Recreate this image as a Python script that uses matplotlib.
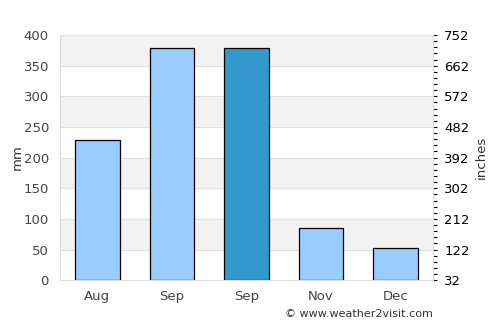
import matplotlib
matplotlib.use("Agg")
import matplotlib.pyplot as plt
from matplotlib.ticker import AutoMinorLocator, FixedLocator

months = ["Aug", "Sep", "Sep", "Nov", "Dec"]
rain_mm = [228, 379, 379, 85, 52]
bar_colors = ["#99ccff", "#99ccff", "#3399cc", "#99ccff", "#99ccff"]
left_ticks = [0, 50, 100, 150, 200, 250, 300, 350, 400]
right_labels = [32, 122, 212, 302, 392, 482, 572, 662, 752]

fig = plt.figure(figsize=(5, 3.25), dpi=100)
ax = fig.add_axes([0.12, 0.138, 0.746, 0.754])

ax.set_ylim(0, 400)
ax.set_xlim(-0.5, len(months) - 0.5)
for i in range(len(left_ticks) - 1):
    if i % 2 == 1:
        ax.axhspan(left_ticks[i], left_ticks[i + 1], color="#f2f2f2", zorder=0, lw=0)
for t in left_ticks:
    ax.axhline(t, color="#e0e0e0", lw=0.8, zorder=0.5)

x = list(range(len(months)))
ax.bar(x, rain_mm, width=0.6, color=bar_colors, edgecolor="black", linewidth=0.9, zorder=2)

ax.set_xticks(x)
ax.set_xticklabels(months, color="#444444", fontsize=9.5)
ax.set_yticks(left_ticks)
ax.tick_params(axis="y", colors="#444444", labelsize=9.5, length=0, pad=8)
ax.tick_params(axis="x", length=0, pad=7)
ax.set_ylabel("mm", color="#333333", fontsize=9.5, labelpad=0)
for s in ["top", "right"]:
    ax.spines[s].set_visible(False)
ax.spines["left"].set_color("#dddddd")
ax.spines["bottom"].set_color("#dddddd")

ax2 = ax.twinx()
ax2.set_ylim(32, 752)
ax2.yaxis.set_major_locator(FixedLocator(right_labels))
ax2.yaxis.set_minor_locator(AutoMinorLocator(5))
ax2.tick_params(axis="y", which="major", length=3, width=0.8, labelsize=9.5, colors="black", pad=5)
ax2.tick_params(axis="y", which="minor", length=3, width=0.8, colors="black")
ax2.set_ylabel("inches", color="#333333", fontsize=9.5, labelpad=4)
for s in ["top", "left", "bottom"]:
    ax2.spines[s].set_visible(False)
ax2.spines["right"].set_color("#dddddd")

fig.text(0.57, 0.025, "© www.weather2visit.com", fontsize=8, color="#333333")

fig.savefig("out.png", dpi=100)
